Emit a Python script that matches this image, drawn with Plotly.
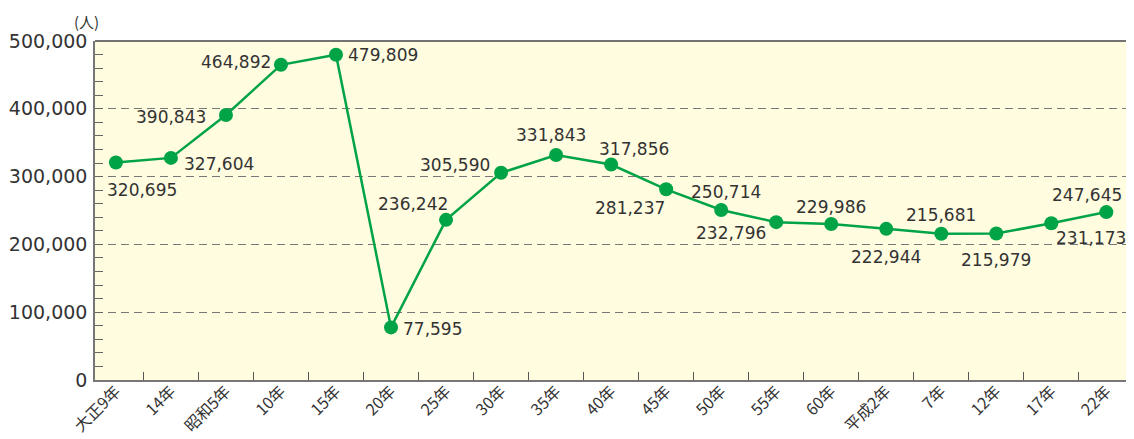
import plotly.graph_objects as go

categories = ["大正9年", "14年", "昭和5年", "10年", "15年", "20年", "25年", "30年", "35年",
              "40年", "45年", "50年", "55年", "60年", "平成2年", "7年", "12年", "17年", "22年"]
population = [320695, 327604, 390843, 464892, 479809, 77595, 236242, 305590, 331843,
              317856, 281237, 250714, 232796, 229986, 222944, 215681, 215979, 231173, 247645]
y_ticks = [0, 100000, 200000, 300000, 400000, 500000]
unit_label = "(人)"

# label offsets (dx, dy in px; dy positive = downward) relative to each point
label_offsets = [(26, 27), (48, 6), (-55, 2), (-45, -3), (47, 0), (41, 2), (-33, -16),
                 (-46, -8), (-5, -20), (23, -15), (-36, 19), (5, -18), (-45, 11),
                 (0, -17), (0, 28), (0, -19), (0, 26), (40, 15), (-19, -17)]

GREEN = "#00a346"
TXT = "#333333"
NUM_FONT = "DejaVu Sans"
JP_FONT = "Noto Sans CJK JP"

fig = go.Figure()
fig.add_trace(go.Scatter(
    x=categories, y=population, mode="lines+markers",
    line=dict(color=GREEN, width=2.5),
    marker=dict(color=GREEN, size=14),
    hoverinfo="skip", showlegend=False,
))

annotations = []
for c, v, (dx, dy) in zip(categories, population, label_offsets):
    annotations.append(dict(
        x=c, y=v, xref="x", yref="y", text=f"{v:,}", showarrow=False,
        xshift=dx, yshift=-dy, xanchor="center", yanchor="middle",
        font=dict(family=NUM_FONT, size=17, color=TXT),
    ))
annotations.append(dict(
    x=-0.008, y=1.058, xref="paper", yref="paper", text=unit_label, showarrow=False,
    xanchor="center", yanchor="middle",
    font=dict(family=JP_FONT, size=15, color=TXT),
))

# the page body adds an 8px margin, so the figure is sized to fit inside it
fig.update_layout(
    width=1126, height=431,
    margin=dict(l=87, r=4, t=33, b=59),
    paper_bgcolor="white",
    plot_bgcolor="#fffce0",
    annotations=annotations,
    shapes=[
        dict(type="line", xref="paper", yref="paper", x0=0, x1=1, y0=1, y1=1,
             line=dict(color="#444444", width=1.5)),
        dict(type="line", xref="paper", yref="paper", x0=1, x1=1, y0=0, y1=1,
             line=dict(color="#444444", width=1.5)),
    ],
)
fig.update_xaxes(
    type="category", range=[-0.38, 18.43], automargin=False,
    tickson="boundaries", ticks="inside", ticklen=8, tickcolor="#555555", tickwidth=1.2,
    showgrid=False, showline=True, linecolor="#777777", linewidth=1.5,
    tickangle=-45, ticklabelstandoff=-6,
    tickfont=dict(family=JP_FONT, size=16, color=TXT),
)
fig.update_yaxes(
    range=[0, 500000], tickvals=y_ticks, tickformat=",", automargin=False,
    ticks="inside", ticklen=8, tickcolor="#666666", tickwidth=1.2,
    minor=dict(dtick=20000, ticks="inside", ticklen=8, tickcolor="#666666", tickwidth=1.2, showgrid=False),
    showgrid=True, gridcolor="#777777", gridwidth=1, griddash="8px,5px",
    showline=True, linecolor="#777777", linewidth=1.5,
    zeroline=False, ticklabelstandoff=2,
    tickfont=dict(family=NUM_FONT, size=19, color=TXT),
)

fig.write_html("out.html")
